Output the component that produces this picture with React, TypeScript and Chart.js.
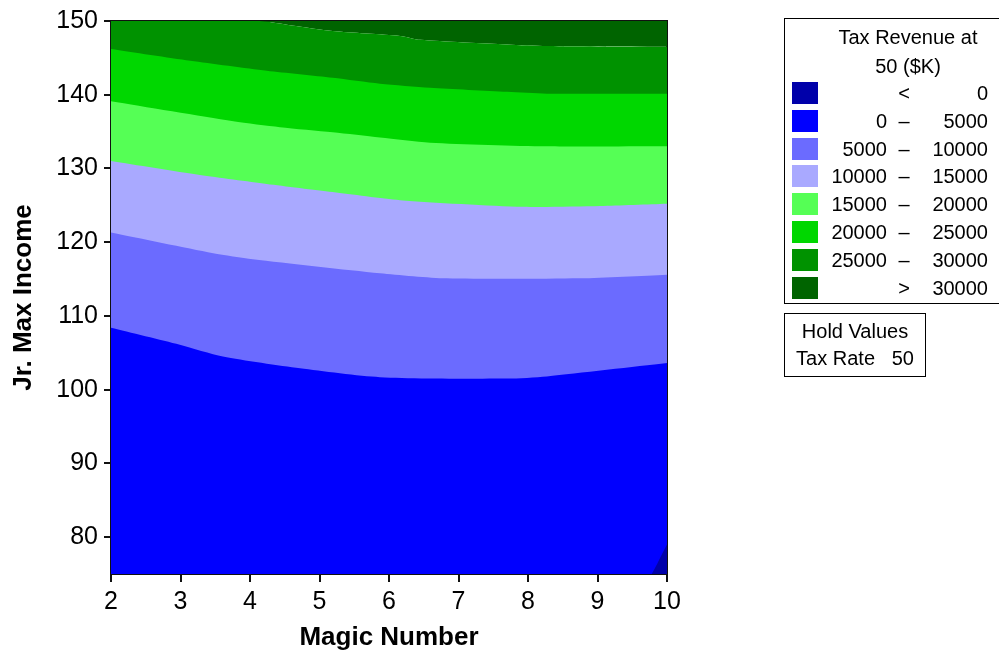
import React, { useEffect, useRef } from "react";
import { Chart, registerables } from "chart.js";

Chart.register(...registerables);

// Axis ticks
const xTickValues = [2, 3, 4, 5, 6, 7, 8, 9, 10];
const yTickValues = [80, 90, 100, 110, 120, 130, 140, 150];

// Contour boundaries (x = Magic Number, y = Jr. Max Income)
// < 0 | 0–5000 (bottom-right corner)
const b0X = [9.78, 9.86, 9.94, 10];
const b0Y = [75, 76.4, 77.9, 79];
// 0–5000 | 5000–10000
const b1X = [2, 2.99, 3.61, 4.72, 5.87, 7.7, 8.27, 10];
const b1Y = [108.4, 106.1, 104.5, 102.9, 101.7, 101.5, 101.8, 103.6];
// 5000–10000 | 10000–15000
const b2X = [2, 3.47, 4.04, 5.87, 6.83, 8.75, 10];
const b2Y = [121.3, 118.5, 117.7, 115.8, 115.1, 115.1, 115.6];
// 10000–15000 | 15000–20000
const b3X = [2, 3.28, 4.24, 5.19, 6.16, 7.93, 9.04, 10];
const b3Y = [131.0, 129.1, 127.9, 126.8, 125.7, 124.8, 124.9, 125.2];
// 15000–20000 | 20000–25000
const b4X = [2, 3.76, 4.43, 5.19, 5.87, 6.59, 8.27, 10];
const b4Y = [139.1, 136.4, 135.6, 134.9, 134.2, 133.5, 133.0, 133.0];
// 20000–25000 | 25000–30000
const b5X = [2, 3.14, 4.24, 5.19, 5.87, 6.59, 7.7, 8.27, 10];
const b5Y = [146.2, 144.6, 143.25, 142.3, 141.5, 140.96, 140.4, 140.15, 140.15];
// 25000–30000 | > 30000
const b6X = [2, 4.14, 4.6, 5.19, 6.16, 6.45, 7.7, 8.27, 10];
const b6Y = [150, 150, 149.4, 148.65, 147.98, 147.45, 146.8, 146.6, 146.5];

// Legend
const legendLow = ["", "0", "5000", "10000", "15000", "20000", "25000", ""];
const legendSep = ["<", "–", "–", "–", "–", "–", "–", ">"];
const legendHigh = ["0", "5000", "10000", "15000", "20000", "25000", "30000", "30000"];
const bandColors = [
  "#0000AA",
  "#0000FF",
  "#6B6BFF",
  "#A9A9FF",
  "#55FF55",
  "#00D700",
  "#009200",
  "#006400",
];

const FONT = "'Liberation Sans', Arial, sans-serif";

function pts(xs: number[], ys: number[]) {
  return xs.map((x, i) => ({ x, y: ys[i] }));
}

export default function App() {
  const ref = useRef<HTMLCanvasElement | null>(null);

  useEffect(() => {
    if (!ref.current) return;
    const boundaries = [
      pts(b0X, b0Y),
      pts(b1X, b1Y),
      pts(b2X, b2Y),
      pts(b3X, b3Y),
      pts(b4X, b4Y),
      pts(b5X, b5Y),
      pts(b6X, b6Y),
    ];
    const datasets: any[] = boundaries.map((data, i) => ({
      data,
      fill: "start",
      backgroundColor: bandColors[i],
      borderWidth: 0,
      pointRadius: 0,
      tension: 0.25,
    }));
    datasets.push({
      data: pts(b6X, b6Y),
      fill: "end",
      backgroundColor: bandColors[7],
      borderWidth: 0,
      pointRadius: 0,
      tension: 0.25,
    });

    const chart = new Chart(ref.current, {
      type: "line",
      data: { datasets },
      options: {
        animation: false,
        responsive: false,
        layout: { padding: { left: 0, right: 332, top: 18, bottom: 0 } },
        plugins: { legend: { display: false }, tooltip: { enabled: false } },
        scales: {
          x: {
            type: "linear",
            position: "bottom",
            min: 2,
            max: 10,
            afterBuildTicks: (s: any) => {
              s.ticks = xTickValues.map((v) => ({ value: v }));
            },
            afterFit: (s: any) => {
              s.height = 76;
            },
            ticks: {
              color: "#000",
              padding: 5,
              maxRotation: 0,
              autoSkip: false,
              font: { family: FONT, size: 25 },
            },
            grid: {
              drawOnChartArea: false,
              drawTicks: true,
              tickLength: 8,
              color: "#111",
              lineWidth: 2,
            },
            border: { display: true, color: "#111", width: 2 },
            title: {
              display: true,
              text: "Magic Number",
              color: "#000",
              font: { family: FONT, size: 26, weight: "bold" },
              padding: { top: 0, bottom: -3 },
            },
          },
          y: {
            type: "linear",
            position: "left",
            min: 75,
            max: 150,
            afterBuildTicks: (s: any) => {
              s.ticks = yTickValues.map((v) => ({ value: v }));
            },
            afterFit: (s: any) => {
              s.width = 111;
            },
            ticks: {
              color: "#000",
              padding: 6,
              autoSkip: false,
              font: { family: FONT, size: 25 },
            },
            grid: {
              drawOnChartArea: false,
              drawTicks: true,
              tickLength: 7,
              color: "#111",
              lineWidth: 2,
            },
            border: { display: true, color: "#111", width: 2 },
            title: {
              display: true,
              text: "Jr. Max Income",
              color: "#000",
              font: { family: FONT, size: 26, weight: "bold" },
              padding: { top: 8, bottom: 0 },
            },
          },
          xTop: {
            type: "linear",
            position: "top",
            min: 2,
            max: 10,
            ticks: { display: false },
            grid: { display: false },
            border: { display: true, color: "#111", width: 2 },
            afterFit: (s: any) => {
              s.height = 0;
            },
          },
          yRight: {
            type: "linear",
            position: "right",
            min: 75,
            max: 150,
            ticks: { display: false },
            grid: { display: false },
            border: { display: true, color: "#111", width: 2 },
            afterFit: (s: any) => {
              s.width = 0;
            },
          },
        },
      } as any,
    });
    return () => chart.destroy();
  }, []);

  const rowTop = (i: number) => 82 + i * 27.8;
  const textStyle: React.CSSProperties = {
    position: "absolute",
    fontFamily: FONT,
    fontSize: 20,
    color: "#000",
    lineHeight: "22px",
    whiteSpace: "pre",
  };

  return (
    <div
      style={{
        position: "absolute",
        left: 0,
        top: 0,
        width: 999,
        height: 650,
        overflow: "hidden",
        background: "#fff",
      }}
    >
      <canvas ref={ref} width={999} height={650} style={{ position: "absolute", left: 0, top: 0, width: 999, height: 650 }} />
      <div
        style={{
          position: "absolute",
          left: 784,
          top: 18,
          width: 248,
          height: 286,
          border: "1px solid #000",
          boxSizing: "border-box",
        }}
      />
      <div style={{ ...textStyle, left: 784, width: 248, top: 26, textAlign: "center" }}>Tax Revenue at</div>
      <div style={{ ...textStyle, left: 784, width: 248, top: 55, textAlign: "center" }}>50 ($K)</div>
      {legendHigh.map((h, i) => (
        <React.Fragment key={i}>
          <div
            style={{
              position: "absolute",
              left: 792,
              top: rowTop(i),
              width: 26,
              height: 22,
              background: bandColors[i],
            }}
          />
          <div style={{ ...textStyle, left: 820, width: 67, top: rowTop(i), textAlign: "right" }}>{legendLow[i]}</div>
          <div style={{ ...textStyle, left: 893, width: 22, top: rowTop(i), textAlign: "center" }}>{legendSep[i]}</div>
          <div style={{ ...textStyle, left: 915, width: 73, top: rowTop(i), textAlign: "right" }}>{h}</div>
        </React.Fragment>
      ))}
      <div
        style={{
          position: "absolute",
          left: 784,
          top: 313,
          width: 142,
          height: 64,
          border: "1px solid #000",
          boxSizing: "border-box",
        }}
      />
      <div style={{ ...textStyle, left: 784, width: 142, top: 320, textAlign: "center" }}>Hold Values</div>
      <div style={{ ...textStyle, left: 784, width: 142, top: 347, textAlign: "center" }}>{"Tax Rate   50"}</div>
    </div>
  );
}
